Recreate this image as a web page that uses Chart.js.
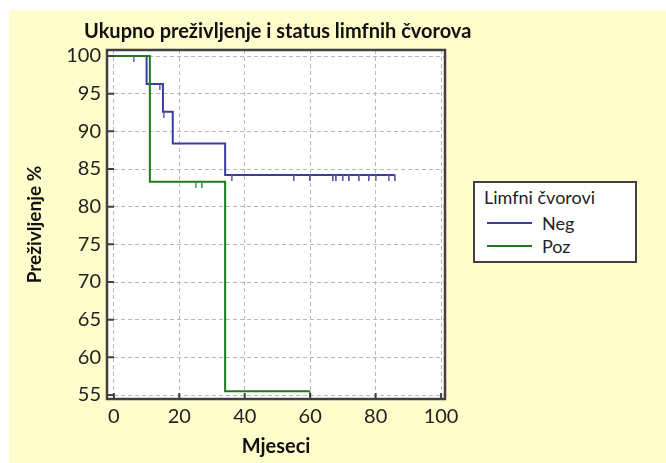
<!DOCTYPE html>
<html>
<head>
<meta charset="utf-8">
<script src="https://cdn.jsdelivr.net/npm/chart.js@4"></script>
<style>
  body { margin: 0; background: #fff; width: 666px; height: 463px; overflow: hidden; position: relative; font-family: Lato, "Open Sans", sans-serif; }
  #bg { position: absolute; left: 9px; top: 10px; right: 0; bottom: 0; background: #fffdcc; }
  #wrap { position: absolute; left: 0; top: 0; width: 666px; height: 463px; }
  #title { position: absolute; left: 84px; top: 18px; font-weight: bold; font-size: 20px; color: #111; white-space: nowrap; }
  #legend { position: absolute; left: 473px; top: 181px; width: 160px; height: 78px; border: 2px solid #404040; background: #fff; font-size: 18px; color: #222; }
  #legend .lt { position: absolute; left: 9px; top: 3px; }
  #legend .it { position: absolute; left: 12px; height: 22px; }
  #legend .ln { position: absolute; left: 0; top: 10px; width: 45px; height: 2px; }
  #legend .tx { position: absolute; left: 55px; top: 0; }
</style>
</head>
<body>
<div id="bg"></div>
<div id="wrap"><canvas id="km" width="666" height="463"></canvas></div>
<div id="title">Ukupno preživljenje i status limfnih čvorova</div>
<div id="legend">
  <div class="lt">Limfni čvorovi</div>
  <div class="it" style="top:29px"><div class="ln" style="background:#3c3ca0"></div><div class="tx">Neg</div></div>
  <div class="it" style="top:52px"><div class="ln" style="background:#1f7a1f"></div><div class="tx">Poz</div></div>
</div>
<script>
// Kaplan-Meier krivulje (mjeseci / preživljenje %)
const negTime = [0, 10, 15, 18, 34, 86];
const negSurv = [100, 96.3, 92.6, 88.4, 84.2, 84.2];
const pozTime = [0, 11, 34, 60];
const pozSurv = [100, 83.3, 55.5, 55.5];

// cenzurirani slucajevi
const negCensTime = [6, 14, 15.2, 36, 55, 60, 67, 68, 70, 72, 75, 78, 80, 84, 86];
const negCensSurv = [100, 96.3, 92.6, 84.2, 84.2, 84.2, 84.2, 84.2, 84.2, 84.2, 84.2, 84.2, 84.2, 84.2, 84.2];
const pozCensTime = [25, 27, 60];
const pozCensSurv = [83.3, 83.3, 55.5];

const xTicks = [0, 20, 40, 60, 80, 100];
const yTicks = [55, 60, 65, 70, 75, 80, 85, 90, 95, 100];

const NEG = '#3c3ca0';
const POZ = '#1f7a1f';

function toPoints(xs, ys) {
  return xs.map((x, i) => ({ x: x, y: ys[i] }));
}

// mala okomita crtica ispod linije
function censorMark(color) {
  const c = document.createElement('canvas');
  c.width = 2;
  c.height = 12;
  const g = c.getContext('2d');
  g.fillStyle = color;
  g.fillRect(0, 6, 1.6, 6);
  return c;
}

const framePlugin = {
  id: 'frame',
  afterDatasetsDraw(chart) {
    const { ctx, chartArea: a, scales } = chart;
    ctx.save();
    ctx.strokeStyle = '#404040';
    ctx.lineWidth = 2.5;
    ctx.strokeRect(a.left, a.top, a.right - a.left, a.bottom - a.top);
    ctx.lineWidth = 2;
    ctx.beginPath();
    yTicks.forEach(v => {
      const y = scales.y.getPixelForValue(v);
      ctx.moveTo(a.left, y);
      ctx.lineTo(a.left + 7, y);
    });
    xTicks.forEach(v => {
      const x = scales.x.getPixelForValue(v);
      ctx.moveTo(x, a.bottom);
      ctx.lineTo(x, a.bottom - 6);
    });
    ctx.stroke();
    ctx.restore();
  }
};

const plotBg = {
  id: 'plotBg',
  beforeDraw(chart) {
    const { ctx, chartArea: a } = chart;
    ctx.save();
    ctx.fillStyle = '#fff';
    ctx.fillRect(a.left, a.top, a.right - a.left, a.bottom - a.top);
    ctx.restore();
  }
};

new Chart(document.getElementById('km'), {
  type: 'line',
  data: {
    datasets: [
      { label: 'Poz', data: toPoints(pozTime, pozSurv), borderColor: POZ, borderWidth: 2, stepped: 'before', pointRadius: 0, order: 1 },
      { label: 'Poz cens', type: 'scatter', data: toPoints(pozCensTime, pozCensSurv), pointStyle: censorMark('#4a9a4a'), pointRadius: 6, order: 0 },
      { label: 'Neg', data: toPoints(negTime, negSurv), borderColor: NEG, borderWidth: 2, stepped: 'before', pointRadius: 0, order: 2 },
      { label: 'Neg cens', type: 'scatter', data: toPoints(negCensTime, negCensSurv), pointStyle: censorMark('#5a5ab4'), pointRadius: 6, order: 0 }
    ]
  },
  options: {
    responsive: false,
    animation: false,
    layout: { padding: { top: 50, right: 221, bottom: 0, left: 0 } },
    plugins: { legend: { display: false }, tooltip: { enabled: false } },
    scales: {
      x: {
        type: 'linear',
        min: -2.1,
        max: 101.2,
        afterBuildTicks: s => { s.ticks = xTicks.map(v => ({ value: v })); },
        afterFit: s => { s.height = 64; },
        grid: { color: '#b8b8b8', lineWidth: 1, drawTicks: false },
        border: { display: false, dash: [4, 3] },
        ticks: { padding: 6, color: '#222', font: { family: 'Lato', size: 20 } },
        title: { display: true, text: 'Mjeseci', color: '#111', font: { family: 'Lato', size: 20, weight: 'bold' }, padding: { top: 0, bottom: 4 } }
      },
      y: {
        min: 54.47,
        max: 100.8,
        afterBuildTicks: s => { s.ticks = yTicks.map(v => ({ value: v })); },
        afterFit: s => { s.width = 107; },
        grid: { color: '#b8b8b8', lineWidth: 1, drawTicks: false },
        border: { display: false, dash: [4, 3] },
        ticks: { padding: 6, color: '#222', font: { family: 'Lato', size: 20 } },
        title: { display: true, text: 'Preživljenje %', color: '#111', font: { family: 'Lato', size: 19, weight: 'bold' }, padding: { top: 23, bottom: 0 } }
      }
    }
  },
  plugins: [plotBg, framePlugin]
});
</script>
</body>
</html>
